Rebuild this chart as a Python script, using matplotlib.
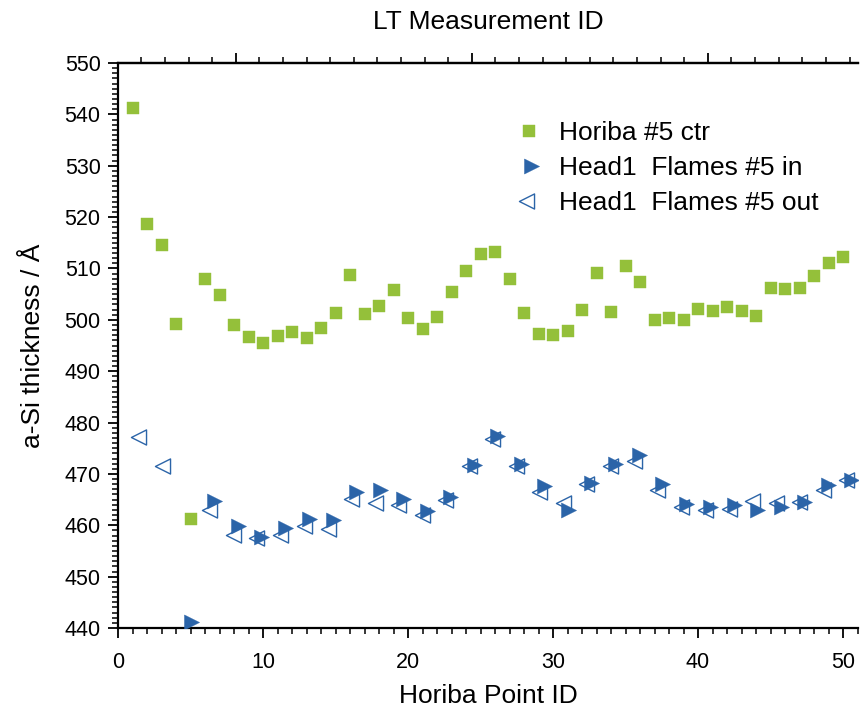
import numpy as np
import matplotlib
matplotlib.use("Agg")
import matplotlib.pyplot as plt
from matplotlib.markers import MarkerStyle
from matplotlib.path import Path

plt.rcParams['font.family'] = ['Liberation Sans', 'DejaVu Sans']

# ---------------- data ----------------
horiba_x = list(range(1, 51))
horiba_ctr = [541.2, 518.6, 514.6, 499.1, 461.2, 507.9, 504.8, 498.9, 496.7, 495.4,
              496.9, 497.7, 496.5, 498.4, 501.3, 508.7, 501.1, 502.6, 505.8, 500.3,
              498.3, 500.5, 505.4, 509.5, 512.8, 513.3, 508.0, 501.4, 497.2, 497.0,
              497.8, 502.0, 509.2, 501.6, 510.4, 507.4, 500.0, 500.3, 499.9, 502.1,
              501.7, 502.4, 501.7, 500.7, 506.1, 506.0, 506.1, 508.6, 511.0, 512.2]

lt_id = list(range(6, 37))
lt_x = [1.60, 3.24, 4.87, 6.49, 8.12, 9.75, 11.38, 13.00, 14.66, 16.28,
        17.90, 19.54, 21.15, 22.79, 24.40, 26.00, 27.63, 29.25, 30.92, 32.50,
        34.15, 35.80, 37.40, 39.03, 40.68, 42.31, 43.95, 45.58, 47.20, 48.85, 50.43]
flames_in = [np.nan, np.nan, 441.1, 464.7, 459.8, 457.7, 459.4, 461.2, 461.1, 466.5,
             466.9, 465.2, 462.7, 465.6, 471.7, 477.4, 472.0, 467.6, 462.9, 468.2,
             471.9, 473.6, 468.0, 464.2, 463.6, 463.9, 463.0, 463.5, 464.6, 467.9, 468.8]
flames_out = [477.2, 471.6, np.nan, 463.0, 458.2, 457.5, 458.1, 459.8, 459.3, 465.1,
              464.3, 463.9, 462.0, 464.9, 471.5, 476.7, 471.6, 466.5, 464.4, 468.0,
              471.6, 472.6, 466.8, 463.6, 462.9, 463.2, 464.8, 464.3, 464.5, 466.8, 468.9]

series_labels = ["Horiba #5 ctr", "Head1  Flames #5 in", "Head1  Flames #5 out"]
x_label = "Horiba Point ID"
top_label = "LT Measurement ID"
y_label = "a-Si thickness / Å"

GREEN = '#94C03A'
BLUE = '#2B64A8'

# triangle markers centred on their centroid
tri_right = MarkerStyle(Path([(-1, 1.5), (-1, -1.5), (2, 0), (-1, 1.5)],
                             [Path.MOVETO, Path.LINETO, Path.LINETO, Path.CLOSEPOLY]))
tri_left = MarkerStyle(Path([(1, 1.5), (1, -1.5), (-2, 0), (1, 1.5)],
                            [Path.MOVETO, Path.LINETO, Path.LINETO, Path.CLOSEPOLY]))

fig = plt.figure(figsize=(8.6, 7.09), dpi=100)
ax = fig.add_axes([118/860, 81/709, 740/860, 565/709])

ax.plot(horiba_x, horiba_ctr, ls='none', marker='s', ms=9.2, mfc=GREEN, mec=GREEN,
        mew=0.3, label=series_labels[0], zorder=3)
ax.plot(lt_x, flames_in, ls='none', marker=tri_right, ms=14.5, mfc=BLUE, mec=BLUE,
        mew=0.3, label=series_labels[1], zorder=3)
ax.plot(lt_x, flames_out, ls='none', marker=tri_left, ms=14.5, mfc='none', mec=BLUE,
        mew=1.0, label=series_labels[2], zorder=4)

ax.set_xlim(0, 51.03)
ax.set_ylim(440, 550)
ax.set_xticks(np.arange(0, 51, 10))
ax.set_xticks(np.arange(0, 52, 1), minor=True)
ax.set_yticks(np.arange(440, 551, 10))
ax.set_yticks(np.arange(440, 551, 1), minor=True)

for s in ['left', 'bottom', 'top']:
    ax.spines[s].set_linewidth(1.6)
ax.spines['right'].set_visible(False)
ax.tick_params(which='major', direction='out', length=7.5, width=1.3, labelsize=15.5,
               right=False, top=False)
ax.tick_params(which='minor', direction='out', length=4, width=1.1, right=False, top=False)
ax.tick_params(axis='x', pad=10)
ax.tick_params(axis='y', pad=5)

ax.set_xlabel(x_label, fontsize=19, labelpad=8)
ax.set_ylabel(y_label, fontsize=19, labelpad=14)

# top axis: LT Measurement ID (linear mapping taken from the LT points)
p = np.polyfit(lt_x, lt_id, 1)
top = ax.secondary_xaxis('top', functions=(lambda x: p[0]*np.asarray(x) + p[1],
                                           lambda t: (np.asarray(t) - p[1]) / p[0]))
top.set_xticks(np.arange(10, 40, 10))
top.set_xticks(np.arange(5, 37, 1), minor=True)
top.tick_params(which='major', direction='out', length=7.5, width=1.3, labelsize=14,
                labeltop=False)
top.tick_params(which='minor', direction='out', length=4, width=1.1)
top.spines['top'].set_linewidth(1.6)
top.set_xlabel(top_label, fontsize=19, labelpad=17)

leg = ax.legend(loc='upper left', bbox_to_anchor=(0.516, 0.921), frameon=False,
                fontsize=19, handletextpad=0.55, labelspacing=0.42, borderpad=0,
                handlelength=1.2)

fig.savefig('out.png', dpi=100)
